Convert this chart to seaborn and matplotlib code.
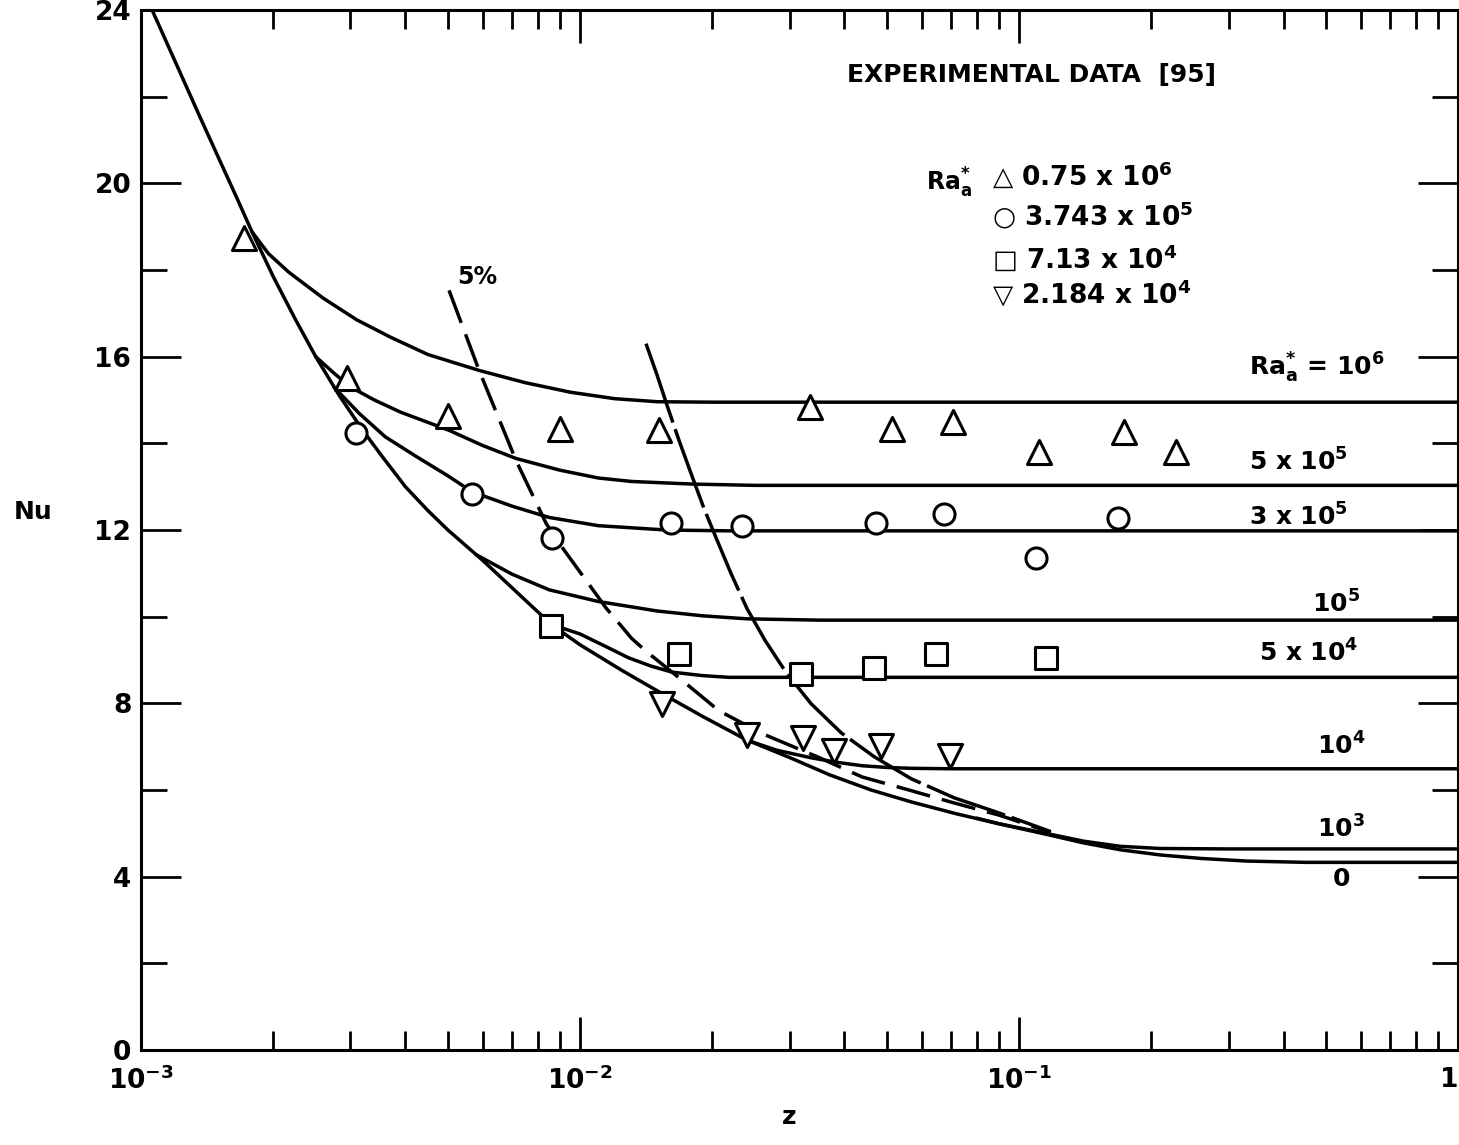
import numpy as np
import pandas as pd
import matplotlib
matplotlib.use("Agg")
import matplotlib.pyplot as plt
from matplotlib.ticker import MultipleLocator, LogLocator, NullFormatter, FixedLocator
import seaborn as sns

# ---------------- data ----------------
# Ra*_a = 0 (lower envelope)
z_ra0 = [1.06e-3, 1.2e-3, 1.35e-3, 1.5e-3, 1.65e-3, 1.79e-3, 2.0e-3, 2.25e-3, 2.5e-3, 2.83e-3,
         3.2e-3, 3.54e-3, 4.0e-3, 4.5e-3, 5.0e-3, 6.0e-3, 7.2e-3, 8.6e-3, 10e-3, 12.5e-3,
         15.4e-3, 19e-3, 24e-3, 30e-3, 37e-3, 46e-3, 57e-3, 72e-3, 90e-3, 0.115, 0.14,
         0.17, 0.21, 0.26, 0.33, 0.45, 1.0]
nu_ra0 = [24.0, 22.78, 21.62, 20.6, 19.68, 18.88, 17.85, 16.85, 16.0, 15.1,
          14.3, 13.7, 13.0, 12.45, 12.0, 11.3, 10.55, 9.82, 9.35, 8.75,
          8.22, 7.7, 7.15, 6.75, 6.35, 6.0, 5.72, 5.45, 5.22, 4.98, 4.78,
          4.62, 4.5, 4.42, 4.36, 4.33, 4.33]

z_ra1e6 = [1.79e-3, 1.95e-3, 2.17e-3, 2.6e-3, 3.1e-3, 3.7e-3, 4.5e-3, 5.9e-3, 7.5e-3,
           9.5e-3, 12e-3, 15e-3, 20e-3, 1.0]
nu_ra1e6 = [18.88, 18.38, 17.95, 17.35, 16.85, 16.45, 16.05, 15.68, 15.4,
            15.18, 15.03, 14.96, 14.95, 14.95]

z_ra5e5 = [2.5e-3, 2.75e-3, 3.0e-3, 3.4e-3, 3.9e-3, 5.03e-3, 6e-3, 7.15e-3, 9e-3, 11e-3,
           13.1e-3, 18e-3, 25e-3, 1.0]
nu_ra5e5 = [16.0, 15.62, 15.3, 15.0, 14.72, 14.3, 13.95, 13.65, 13.38, 13.2,
            13.12, 13.06, 13.03, 13.03]

z_ra3e5 = [2.75e-3, 3.14e-3, 3.6e-3, 4.23e-3, 5.0e-3, 5.68e-3, 7e-3, 8.5e-3, 11e-3,
           15.7e-3, 22e-3, 1.0]
nu_ra3e5 = [15.3, 14.69, 14.15, 13.7, 13.25, 12.88, 12.55, 12.29, 12.1,
            12.0, 11.98, 11.98]

z_ra1e5 = [5.8e-3, 7e-3, 8.5e-3, 11e-3, 15e-3, 19e-3, 24e-3, 35e-3, 1.0]
nu_ra1e5 = [11.43, 10.98, 10.62, 10.35, 10.13, 10.02, 9.95, 9.92, 9.92]

z_ra5e4 = [8.6e-3, 10e-3, 11.5e-3, 12.9e-3, 14.5e-3, 16.2e-3, 19e-3, 21.8e-3, 30e-3, 1.0]
nu_ra5e4 = [9.82, 9.6, 9.3, 9.05, 8.86, 8.72, 8.64, 8.6, 8.6, 8.6]

z_ra1e4 = [24e-3, 28e-3, 33.7e-3, 39e-3, 43.9e-3, 50e-3, 57e-3, 70e-3, 1.0]
nu_ra1e4 = [7.15, 6.92, 6.74, 6.63, 6.56, 6.52, 6.5, 6.49, 6.49]

z_ra1e3 = [80e-3, 90e-3, 0.11, 0.14, 0.17, 0.21, 0.3, 1.0]
nu_ra1e3 = [5.35, 5.22, 5.04, 4.82, 4.7, 4.65, 4.64, 4.64]

# 5 % deviation line (dashed)
z_dash5 = [5.03e-3, 5.89e-3, 7.15e-3, 8.37e-3, 9.1e-3, 11.46e-3, 13.1e-3, 14.1e-3, 16.8e-3,
           20.7e-3, 26e-3, 35e-3, 43.9e-3, 57e-3, 70e-3, 90e-3, 0.118]
nu_dash5 = [17.53, 15.68, 13.6, 12.15, 11.6, 10.2, 9.5, 9.21, 8.59,
            7.83, 7.3, 6.75, 6.3, 5.98, 5.72, 5.42, 5.02]

# second (long-dashed) line
z_dash2 = [14.13e-3, 14.98e-3, 15.87e-3, 16.81e-3, 17.9e-3, 19.16e-3, 20.52e-3, 22.08e-3,
           24.01e-3, 26.39e-3, 29.46e-3, 33.59e-3, 39.32e-3, 46.73e-3, 56.75e-3, 71.1e-3,
           90.0e-3, 0.118]
nu_dash2 = [16.3, 15.57, 14.8, 14.06, 13.3, 12.49, 11.76, 10.99,
            10.18, 9.45, 8.71, 7.99, 7.32, 6.77, 6.26, 5.82,
            5.47, 5.04]

# experimental data [95]
z_tri_up = [1.717e-3, 2.945e-3, 5.0e-3, 9.0e-3, 15.1e-3, 33.4e-3, 51.4e-3, 70.8e-3, 0.111, 0.173, 0.227]
nu_tri_up = [18.73, 15.5, 14.62, 14.34, 14.3, 14.83, 14.32, 14.5, 13.81, 14.27, 13.79]

z_circ = [3.09e-3, 5.68e-3, 8.63e-3, 16.1e-3, 23.4e-3, 47.2e-3, 67.5e-3, 0.109, 0.168]
nu_circ = [14.23, 12.84, 11.82, 12.17, 12.1, 12.17, 12.38, 11.36, 12.28]

z_sq = [8.59e-3, 16.8e-3, 31.9e-3, 46.7e-3, 64.7e-3, 0.115]
nu_sq = [9.79, 9.15, 8.68, 8.82, 9.15, 9.05]

z_tri_dn = [15.4e-3, 24.0e-3, 32.2e-3, 37.9e-3, 48.5e-3, 69.6e-3]
nu_tri_dn = [7.99, 7.27, 7.2, 6.9, 7.01, 6.78]

x_tick_vals = [1e-3, 1e-2, 1e-1, 1.0]
x_tick_labels = [r"$10^{-3}$", r"$10^{-2}$", r"$10^{-1}$", "1"]
y_tick_vals = [0, 4, 8, 12, 16, 20, 24]

# ---------------- style ----------------
sns.set_style("ticks")
plt.rcParams["font.family"] = ["DejaVu Sans"]
plt.rcParams["font.weight"] = "bold"
plt.rcParams["text.color"] = "black"
plt.rcParams["axes.labelcolor"] = "black"
plt.rcParams["xtick.color"] = "black"
plt.rcParams["ytick.color"] = "black"
plt.rcParams["mathtext.fontset"] = "custom"
plt.rcParams["mathtext.rm"] = "DejaVu Sans:bold"
plt.rcParams["mathtext.it"] = "DejaVu Sans:bold"
plt.rcParams["mathtext.bf"] = "DejaVu Sans:bold"
plt.rcParams["mathtext.default"] = "rm"

fig = plt.figure(figsize=(14.59, 11.45), dpi=100)
ax = fig.add_axes([141 / 1459, 1 - 1050 / 1145, (1459 - 141) / 1459 - 0.0005, 1040 / 1145])
ax.set_xscale("log")

# solid theoretical curves
solid = pd.concat([
    pd.DataFrame({"z": z, "Nu": n, "curve": name})
    for name, z, n in [
        ("0", z_ra0, nu_ra0), ("1e3", z_ra1e3, nu_ra1e3), ("1e4", z_ra1e4, nu_ra1e4),
        ("5e4", z_ra5e4, nu_ra5e4), ("1e5", z_ra1e5, nu_ra1e5), ("3e5", z_ra3e5, nu_ra3e5),
        ("5e5", z_ra5e5, nu_ra5e5), ("1e6", z_ra1e6, nu_ra1e6)]
], ignore_index=True)
sns.lineplot(data=solid, x="z", y="Nu", units="curve", estimator=None, sort=False,
             color="black", linewidth=2.5, ax=ax, legend=False)

# dashed curves
sns.lineplot(x=z_dash5, y=nu_dash5, sort=False, estimator=None, color="black",
             linewidth=2.5, linestyle=(0, (10, 3.5)), ax=ax)
sns.lineplot(x=z_dash2, y=nu_dash2, sort=False, estimator=None, color="black",
             linewidth=2.5, linestyle=(0, (24, 2)), ax=ax)

# experimental points
mk = dict(color="white", edgecolor="black", linewidth=2.2, zorder=4, ax=ax, legend=False)
sns.scatterplot(x=z_tri_up, y=nu_tri_up, marker="^", s=300, **mk)
sns.scatterplot(x=z_circ, y=nu_circ, marker="o", s=230, **mk)
sns.scatterplot(x=z_sq, y=nu_sq, marker="s", s=230, **mk)
sns.scatterplot(x=z_tri_dn, y=nu_tri_dn, marker="v", s=300, **mk)

# axes
ax.set_xlim(1e-3, 1.0)
ax.set_ylim(0, 24)
ax.xaxis.set_major_locator(FixedLocator(x_tick_vals))
ax.set_xticklabels(x_tick_labels)
ax.xaxis.set_minor_locator(LogLocator(base=10, subs=np.arange(2, 10)))
ax.xaxis.set_minor_formatter(NullFormatter())
ax.set_yticks(y_tick_vals)
ax.set_yticklabels([str(v) for v in y_tick_vals])
ax.yaxis.set_minor_locator(MultipleLocator(2))

for s in ax.spines.values():
    s.set_linewidth(2.2)
    s.set_color("black")

ax.tick_params(axis="both", which="both", direction="in", top=True, right=True,
               width=2.0, colors="black")
ax.tick_params(axis="x", which="major", length=24, pad=12, labelsize=19)
ax.tick_params(axis="x", which="minor", length=14)
ax.tick_params(axis="y", which="major", length=29, pad=7, labelsize=19)
ax.tick_params(axis="y", which="minor", length=19)
ax.get_xticklabels()[-1].set_horizontalalignment("right")

ax.set_xlabel("z", fontsize=18, fontweight="bold")
ax.xaxis.set_label_coords(0.492, -0.053)
ax.set_ylabel("Nu", fontsize=18, fontweight="bold", rotation=0, va="center", ha="center")
ax.yaxis.set_label_coords(-0.082, 0.517)

# curve labels
lab = dict(fontsize=18, fontweight="bold", va="center", ha="left")
ax.text(0.334, 15.73, r"Ra$^{*}_{a}$ = $10^{6}$", **lab)
ax.text(0.334, 13.56, r"5 x $10^{5}$", **lab)
ax.text(0.334, 12.31, r"3 x $10^{5}$", **lab)
ax.text(0.465, 10.3, r"$10^{5}$", **lab)
ax.text(0.352, 9.15, r"5 x $10^{4}$", **lab)
ax.text(0.477, 7.02, r"$10^{4}$", **lab)
ax.text(0.477, 5.1, r"$10^{3}$", **lab)
ax.text(0.541, 3.95, "0", fontsize=18, fontweight="bold", va="center", ha="center")
ax.text(5.25e-3, 17.85, "5%", fontsize=17, fontweight="bold", va="center", ha="left")

# experimental data legend
ax.text(40.6e-3, 22.49, "EXPERIMENTAL DATA  [95]", fontsize=18, fontweight="bold",
        va="center", ha="left")
ax.text(61.5e-3, 20.0, r"Ra$^{*}_{a}$", fontsize=17, fontweight="bold", va="center", ha="left")
leg = dict(fontsize=19, fontweight="bold", va="center", ha="left")
ax.text(86.8e-3, 20.18, r"△ 0.75 x $10^{6}$", **leg)
ax.text(86.8e-3, 19.26, r"○ 3.743 x $10^{5}$", **leg)
ax.text(86.8e-3, 18.27, r"□ 7.13 x $10^{4}$", **leg)
ax.text(86.8e-3, 17.44, r"▽ 2.184 x $10^{4}$", **leg)

fig.savefig("out.png", dpi=100)
